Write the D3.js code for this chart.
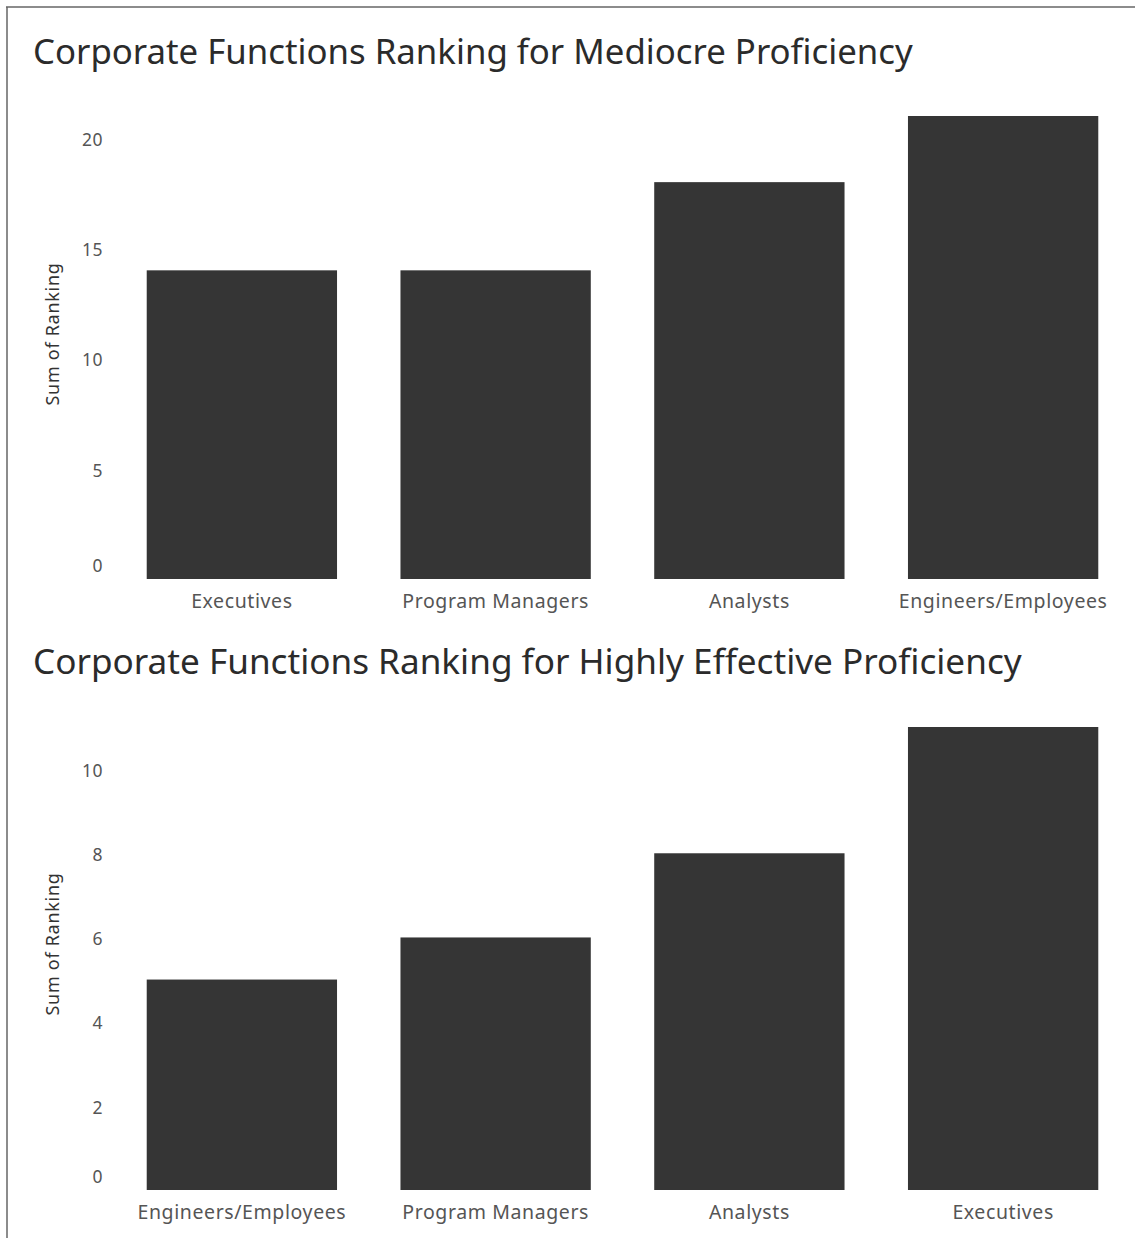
<!DOCTYPE html>
<html>
<head>
<meta charset="utf-8">
<script src="https://cdn.jsdelivr.net/npm/d3@7"></script>
<style>
  html, body { margin: 0; padding: 0; background: #fff; }
  svg { display: block; }
  text { font-family: "Noto Sans", "Open Sans", sans-serif; }
</style>
</head>
<body>
<svg id="chart" width="1135" height="1238"></svg>
<script>
// Mediocre proficiency ranking
const mediocreCategories = ["Executives", "Program Managers", "Analysts", "Engineers/Employees"];
const mediocreValues = [14, 14, 18, 21];
const mediocreTicks = [0, 5, 10, 15, 20];

// Highly effective proficiency ranking
const effectiveCategories = ["Engineers/Employees", "Program Managers", "Analysts", "Executives"];
const effectiveValues = [5, 6, 8, 11];
const effectiveTicks = [0, 2, 4, 6, 8, 10];

const titles = [
  "Corporate Functions Ranking for Mediocre Proficiency",
  "Corporate Functions Ranking for Highly Effective Proficiency"
];
const yAxisTitle = "Sum of Ranking";

const svg = d3.select("#chart");

// frame lines (top and left)
svg.append("line").attr("x1", 6).attr("x2", 1135).attr("y1", 7).attr("y2", 7)
  .attr("stroke", "#666").attr("stroke-width", 1.5);
svg.append("line").attr("x1", 7).attr("x2", 7).attr("y1", 7).attr("y2", 1238)
  .attr("stroke", "#666").attr("stroke-width", 1.5);

// size a text element so it spans a given width
function fitWidth(sel, target) {
  const node = sel.node();
  const size = parseFloat(sel.attr("font-size"));
  const w = node.getComputedTextLength();
  sel.attr("font-size", (size * target / w).toFixed(2));
}

function drawPanel(cfg) {
  const g = svg.append("g");

  const title = g.append("text")
    .attr("x", 33).attr("y", cfg.titleY)
    .attr("font-size", 30)
    .attr("fill", "#2b2b2b")
    .text(cfg.title);
  fitWidth(title, cfg.titleWidth);

  const x = d3.scaleBand()
    .domain(cfg.categories)
    .range([115, 1130])
    .paddingInner(0.25)
    .paddingOuter(0.125);

  const y = d3.scaleLinear()
    .domain([0, cfg.max])
    .range([cfg.bottom, cfg.top]);

  g.selectAll("rect.bar")
    .data(cfg.categories.map((c, i) => ({ c, v: cfg.values[i] })))
    .join("rect")
    .attr("class", "bar")
    .attr("x", d => x(d.c))
    .attr("width", x.bandwidth())
    .attr("y", d => y(d.v))
    .attr("height", d => y(0) - y(d.v))
    .attr("fill", "#353535");

  // value axis
  const yAxis = d3.axisLeft(y).tickValues(cfg.ticks).tickSize(0).tickPadding(0);
  const ya = g.append("g").attr("transform", "translate(103,0)").call(yAxis);
  ya.select(".domain").remove();
  ya.selectAll("text")
    .attr("font-size", 17.5)
    .attr("letter-spacing", 0.5)
    .attr("fill", "#555")
    .attr("font-family", "\"Noto Sans\", sans-serif")
    .attr("dy", d => d === 0 ? "-0.45em" : "0.42em");

  // category axis
  const xAxis = d3.axisBottom(x).tickSize(0).tickPadding(0);
  const xa = g.append("g").attr("transform", `translate(0,${cfg.bottom})`).call(xAxis);
  xa.select(".domain").remove();
  xa.selectAll("text")
    .attr("font-size", 19.5)
    .attr("letter-spacing", 0.6)
    .attr("fill", "#555")
    .attr("font-family", "\"Noto Sans\", sans-serif")
    .attr("y", 29)
    .attr("dy", 0);

  g.append("text")
    .attr("transform", `translate(${cfg.yTitleX},${cfg.yTitleY}) rotate(-90)`)
    .attr("text-anchor", "middle")
    .attr("font-size", 18)
    .attr("letter-spacing", 0.7)
    .attr("fill", "#333")
    .text(yAxisTitle);
}

drawPanel({
  title: titles[0], titleY: 64, titleWidth: 880,
  categories: mediocreCategories, values: mediocreValues, ticks: mediocreTicks,
  max: 21, top: 116, bottom: 579, yTitleX: 59, yTitleY: 334
});

drawPanel({
  title: titles[1], titleY: 674, titleWidth: 989,
  categories: effectiveCategories, values: effectiveValues, ticks: effectiveTicks,
  max: 11, top: 727, bottom: 1190, yTitleX: 59, yTitleY: 944
});
</script>
</body>
</html>
